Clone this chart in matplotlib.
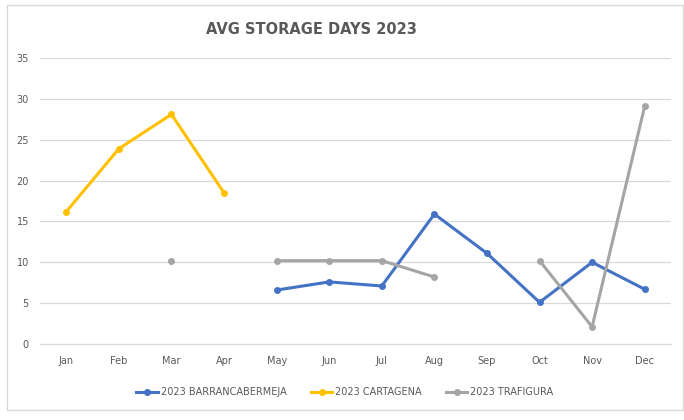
import matplotlib
matplotlib.use("Agg")
import matplotlib.pyplot as plt
import numpy as np
from matplotlib.patches import Rectangle

months = ["Jan", "Feb", "Mar", "Apr", "May", "Jun", "Jul", "Aug", "Sep", "Oct", "Nov", "Dec"]
nan = np.nan
barranca = [nan, nan, nan, nan, 6.6, 7.6, 7.1, 15.9, 11.1, 5.1, 10.0, 6.7]
cartagena = [16.2, 23.9, 28.1, 18.5, nan, nan, nan, nan, nan, nan, nan, nan]
trafigura = [nan, nan, 10.2, nan, 10.2, 10.2, 10.2, 8.2, nan, 10.2, 2.1, 29.1]

series = [
    ("2023 BARRANCABERMEJA", barranca, "#4472C4"),
    ("2023 CARTAGENA", cartagena, "#FFC000"),
    ("2023 TRAFIGURA", trafigura, "#A5A5A5"),
]

TEXT = "#595959"

fig = plt.figure(figsize=(6.84, 4.2), dpi=100)
fig.patch.set_facecolor("white")
# chart border like the spreadsheet chart box
fig.patches.append(Rectangle((7/684, 10/420), 676/684, 405/420, transform=fig.transFigure,
                             fill=False, edgecolor="#D9D9D9", linewidth=1))

ax = fig.add_axes([40/684, 1-344/420, 631/684, (344-58)/420])
x = np.arange(len(months))
for name, vals, color in series:
    ax.plot(x, vals, color=color, linewidth=2.2, marker="o", markersize=4, label=name)

ax.set_xlim(-0.5, 11.5)
ax.set_ylim(0, 35)
ax.set_yticks(np.arange(0, 36, 5))
ax.set_xticks(x, months)
ax.grid(axis="y", color="#D9D9D9", linewidth=0.9)
ax.set_axisbelow(True)
for s in ["top", "right", "left"]:
    ax.spines[s].set_visible(False)
ax.spines["bottom"].set_color("#D9D9D9")
ax.tick_params(axis="both", length=0, labelsize=7, colors=TEXT, pad=8)
ax.tick_params(axis="x", pad=9)

fig.text(311/684, 1-30/420, "AVG STORAGE DAYS 2023", ha="center", va="center",
         fontsize=10.5, fontweight="bold", color=TEXT)

fig.legend(loc="center", bbox_to_anchor=(345/684, 1-392/420), ncol=3, frameon=False,
           fontsize=7, labelcolor=TEXT, handlelength=2.2, columnspacing=2.5, handletextpad=0.3)

fig.savefig("out.png", dpi=100)
